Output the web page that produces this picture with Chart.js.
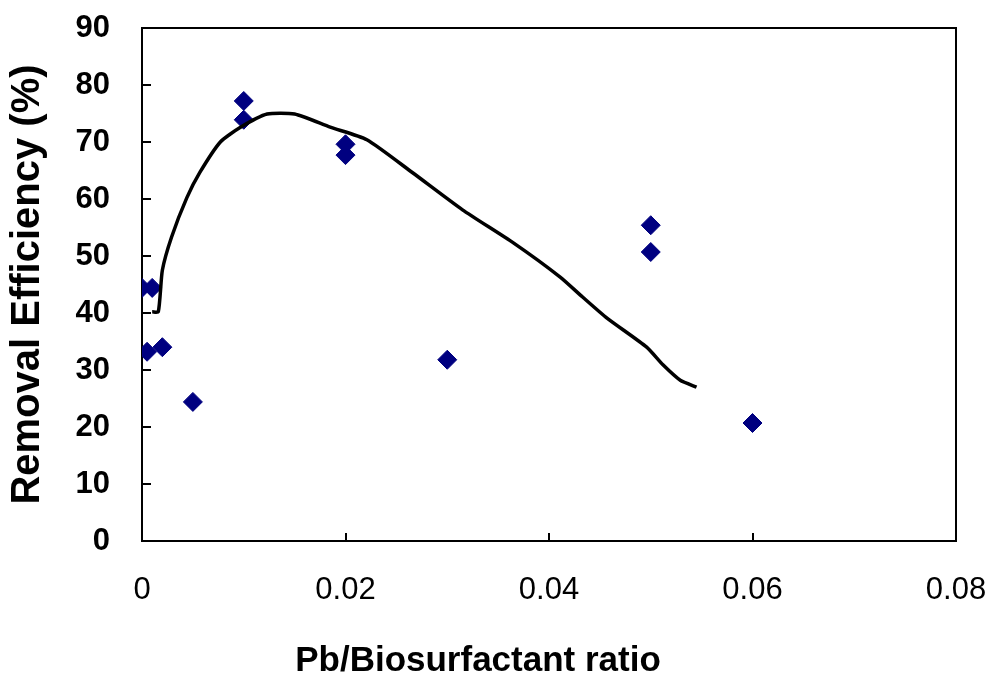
<!DOCTYPE html>
<html>
<head>
<meta charset="utf-8">
<script src="https://cdn.jsdelivr.net/npm/chart.js@4.4.1/dist/chart.umd.min.js"></script>
<style>
  html, body { margin: 0; padding: 0; background: #fff; }
  #wrap { width: 988px; height: 679px; }
</style>
</head>
<body>
<div id="wrap"><canvas id="js-chart-removal"></canvas></div>
<script>
// measured points (Pb/biosurfactant ratio vs removal %)
const ratioPts = [0, 0.001, 0.0005, 0.002, 0.005, 0.01, 0.01, 0.02, 0.02, 0.03, 0.05, 0.05, 0.06];
const effPts = [44.4, 44.4, 33.2, 34.0, 24.4, 77.2, 73.9, 69.6, 67.7, 31.8, 55.4, 50.7, 20.7];

// fitted curve
const fitX = [0.001, 0.0016, 0.002, 0.0029, 0.0044, 0.0057, 0.0077, 0.0096, 0.0123, 0.015, 0.0185, 0.0221, 0.0266, 0.0315, 0.0365, 0.0411, 0.0433, 0.0457, 0.0496, 0.0512, 0.0529, 0.0545];
const fitY = [40.2, 40.2, 47.5, 53.3, 60.2, 64.7, 70.0, 72.5, 74.9, 74.9, 72.6, 70.4, 64.6, 58.1, 52.3, 46.3, 42.8, 39.1, 34.0, 30.9, 28.2, 27.0];

const xTicks = [0, 0.02, 0.04, 0.06, 0.08];
const yTicks = [0, 10, 20, 30, 40, 50, 60, 70, 80, 90];

const FONT = "'Liberation Sans', Arial, sans-serif";

// box round the plot and short inward tick marks
const frame = {
    id: "frame",
    beforeDatasetsDraw(chart) {
        const { ctx, chartArea: a, scales: { x, y } } = chart;
        ctx.save();
        ctx.strokeStyle = "#000";
        ctx.lineWidth = 2;
        ctx.strokeRect(a.left, a.top, a.right - a.left, a.bottom - a.top);
        ctx.beginPath();
        yTicks.slice(1, -1).forEach(v => {
            const py = Math.round(y.getPixelForValue(v));
            ctx.moveTo(a.left, py);
            ctx.lineTo(a.left + 9, py);
        });
        xTicks.slice(1, -1).forEach(v => {
            const px = Math.round(x.getPixelForValue(v));
            ctx.moveTo(px, a.bottom);
            ctx.lineTo(px, a.bottom - 8);
        });
        ctx.stroke();
        ctx.restore();
    },
};

new Chart(document.getElementById("js-chart-removal"), {
    type: "scatter",
    data: {
        datasets: [
            {
                label: "fit",
                type: "line",
                order: 0,
                data: fitX.map((v, i) => ({ x: v, y: fitY[i] })),
                borderColor: "#000",
                borderWidth: 3.5,
                pointRadius: 0,
                fill: false,
                tension: 0.2,
            },
            {
                label: "measured",
                order: 1,
                data: ratioPts.map((v, i) => ({ x: v, y: effPts[i] })),
                pointStyle: "rectRot",
                pointRadius: 9.5,
                pointBackgroundColor: "#000080",
                pointBorderColor: "#000080",
                pointBorderWidth: 1,
            },
        ],
    },
    options: {
        responsive: true,
        maintainAspectRatio: false,
        animation: false,
        layout: { padding: { top: 28, right: 32, left: 0, bottom: 0 } },
        scales: {
            x: {
                type: "linear",
                min: 0,
                max: 0.08,
                afterFit: s => { s.height = 103; s.paddingLeft = 0; s.paddingRight = 0; },
                afterBuildTicks: s => { s.ticks = xTicks.map(v => ({ value: v })); },
                grid: { display: false, drawTicks: false },
                border: { display: false },
                ticks: {
                    color: "#000",
                    padding: 31,
                    font: { family: FONT, size: 31 },
                    callback: v => (v === 0 ? "0" : v.toFixed(2)),
                },
            },
            y: {
                min: 0,
                max: 90,
                afterFit: s => { s.width = 142; s.paddingTop = 0; s.paddingBottom = 0; },
                afterBuildTicks: s => { s.ticks = yTicks.map(v => ({ value: v })); },
                grid: { display: false, drawTicks: false },
                border: { display: false },
                ticks: {
                    color: "#000",
                    padding: 32,
                    font: { family: FONT, size: 31, weight: "bold" },
                },
                title: {
                    display: true,
                    text: "Removal Efficiency (%)",
                    color: "#000",
                    padding: { top: 4, bottom: 0 },
                    font: { family: FONT, size: 40, weight: "bold" },
                },
            },
        },
        plugins: {
            legend: { display: false },
            tooltip: { enabled: false },
            title: {
                display: true,
                position: "bottom",
                text: "Pb/Biosurfactant ratio",
                color: "#000",
                padding: { top: 0, bottom: 0 },
                font: { family: FONT, size: 35, weight: "bold", lineHeight: 1.0 },
            },
        },
    },
    plugins: [frame],
});
</script>
</body>
</html>
